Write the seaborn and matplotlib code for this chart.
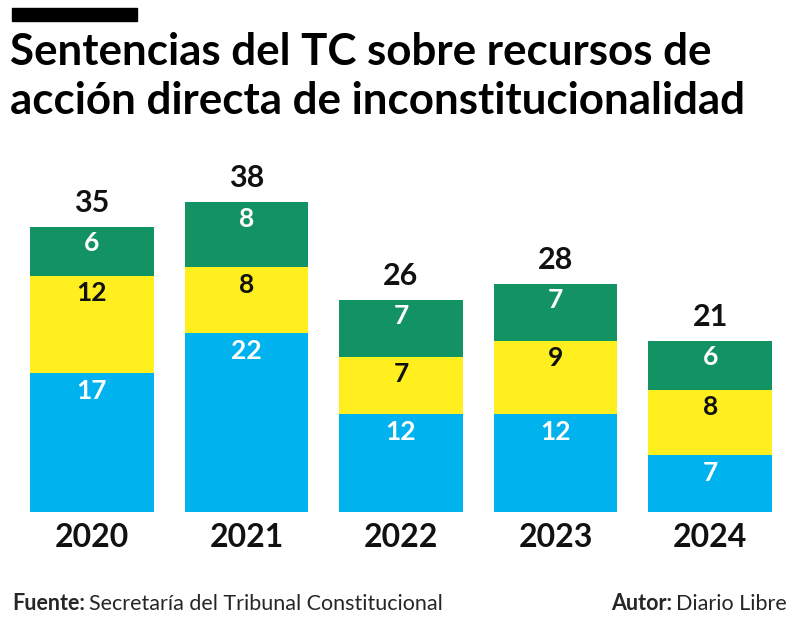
import pandas as pd
import matplotlib.pyplot as plt
import seaborn as sns

# Datos
anios = ['2020', '2021', '2022', '2023', '2024']
azul = [17, 22, 12, 12, 7]
amarillo = [12, 8, 7, 9, 8]
verde = [6, 8, 7, 7, 6]

C_AZUL = '#00B2EE'
C_AMARILLO = '#FFEF1F'
C_VERDE = '#139264'

df = pd.DataFrame({'anio': anios, 'azul': azul, 'amarillo': amarillo, 'verde': verde})
df['az_am'] = df['azul'] + df['amarillo']
df['total'] = df['az_am'] + df['verde']

sns.set_style('white')
plt.rcParams['font.family'] = ['Lato', 'DejaVu Sans']

fig = plt.figure(figsize=(8, 6.29), dpi=100)
ax = fig.add_axes([0.0375, 0.186, 0.9275, 0.5755])

# barras apiladas: se dibujan de atras hacia adelante
for col, c in [('total', C_VERDE), ('az_am', C_AMARILLO), ('azul', C_AZUL)]:
    sns.barplot(data=df, x='anio', y=col, color=c, width=0.8, saturation=1,
                linewidth=0, ax=ax)

ax.set_xlim(-0.4, 4.4)
ax.set_ylim(0, 44.4)
ax.set_xlabel('')
ax.set_ylabel('')
ax.set_yticks([])
sns.despine(ax=ax, left=True, bottom=True)
ax.tick_params(axis='x', length=0, pad=8)
for t in ax.get_xticklabels():
    t.set_fontsize(23)
    t.set_fontweight('bold')
    t.set_color('#111111')

# etiquetas
for i, fila in df.iterrows():
    ax.text(i, fila['total'] + 1.2, str(fila['total']), ha='center', va='bottom',
            fontsize=22, fontweight='bold', color='#111111')
    ax.text(i, fila['total'] - 2.0, str(fila['verde']), ha='center', va='center',
            fontsize=19, fontweight='bold', color='white')
    ax.text(i, fila['az_am'] - 2.1, str(fila['amarillo']), ha='center', va='center',
            fontsize=19, fontweight='bold', color='#111111')
    ax.text(i, fila['azul'] - 2.2, str(fila['azul']), ha='center', va='center',
            fontsize=19, fontweight='bold', color='white')

# barra negra superior
fig.patches.append(plt.Rectangle((12 / 800, 1 - 21 / 629), 125 / 800, 13 / 629,
                                 transform=fig.transFigure, color='black'))

fig.text(10 / 800, 1 - 52 / 629, 'Sentencias del TC sobre recursos de', fontsize=31.6,
         fontweight='bold', va='center', ha='left', color='black')
fig.text(10 / 800, 1 - 101 / 629, 'acción directa de inconstitucionalidad', fontsize=31.6,
         fontweight='bold', va='center', ha='left', color='black')

# pie de grafico
fig.canvas.draw()
r = fig.canvas.get_renderer()
y_pie = 1 - 604 / 629
t1 = fig.text(12 / 800, y_pie, 'Fuente:', fontsize=15.5, fontweight='bold', va='center')
w1 = t1.get_window_extent(r).width
fig.text((12 + w1 + 4) / 800, y_pie, 'Secretaría del Tribunal Constitucional', fontsize=15.5, va='center')

t2 = fig.text(787 / 800, y_pie, 'Diario Libre', fontsize=15.5, va='center', ha='right')
w2 = t2.get_window_extent(r).width
fig.text((787 - w2 - 4) / 800, y_pie, 'Autor:', fontsize=15.5, fontweight='bold', va='center', ha='right')

fig.savefig('out.png', dpi=100, facecolor='white')
